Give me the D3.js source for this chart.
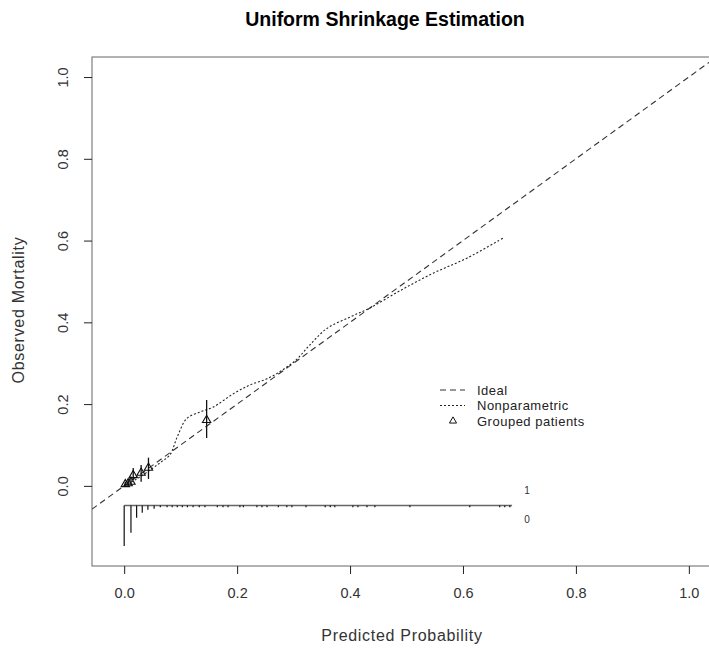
<!DOCTYPE html>
<html>
<head>
<meta charset="utf-8">
<script src="https://cdn.jsdelivr.net/npm/d3@7"></script>
<style>
  body { margin: 0; background: #fff; }
  svg { display: block; font-family: "Liberation Sans", Arial, sans-serif; }
</style>
</head>
<body>
<svg id="chart" width="709" height="650"></svg>
<script>
// ---- data ----
const xTicks = [0, 0.2, 0.4, 0.6, 0.8, 1.0];
const yTicks = [0, 0.2, 0.4, 0.6, 0.8, 1.0];
const idealX = [-0.1, 1.1];
const npX = [0.0, 0.02, 0.046, 0.065, 0.081, 0.094, 0.111, 0.135, 0.158, 0.193, 0.223, 0.253, 0.281, 0.306, 0.329, 0.359, 0.40, 0.435, 0.488, 0.547, 0.607, 0.671];
const npY = [0.0, 0.015, 0.039, 0.058, 0.076, 0.12, 0.165, 0.181, 0.193, 0.225, 0.247, 0.262, 0.284, 0.31, 0.345, 0.385, 0.413, 0.435, 0.477, 0.52, 0.557, 0.606];
const grpX  = [0.002, 0.007, 0.012, 0.016, 0.030, 0.043, 0.146];
const grpY  = [0.004, 0.006, 0.010, 0.026, 0.032, 0.044, 0.161];
const grpLo = [0.000, 0.001, 0.003, 0.015, 0.010, 0.017, 0.117];
const grpHi = [0.010, 0.013, 0.020, 0.044, 0.051, 0.069, 0.210];
const rugX0 = [0.0, 0.012, 0.022, 0.032, 0.042, 0.053,
  0.064, 0.076, 0.085, 0.094, 0.103, 0.112, 0.122, 0.133, 0.143, 0.165, 0.175, 0.184, 0.205, 0.211,
  0.235, 0.244, 0.253, 0.273, 0.288, 0.297, 0.322, 0.356, 0.365, 0.373, 0.405, 0.414, 0.430, 0.444,
  0.506, 0.612, 0.665, 0.674, 0.683];
const rugN0 = [407, 273, 123, 73, 43, 33,
  18, 18, 18, 18, 18, 18, 18, 18, 18, 18, 18, 18, 18, 18,
  18, 18, 18, 18, 18, 18, 18, 18, 18, 18, 18, 18, 18, 18,
  18, 18, 18, 18, 18];
const rugLine = [0.0, 0.687];
const legendItems = ["Ideal", "Nonparametric", "Grouped patients"];

// ---- scales ----
const svg = d3.select("#chart");
const x = d3.scaleLinear().domain([-0.057, 1.041]).range([92, 712]);
const y = d3.scaleLinear().domain([-0.196, 1.049]).range([566, 57]);
const rugH = d3.scaleLinear().domain([0, 410]).range([0, 0.1]);
const rugBase = -0.048;

svg.append("defs").append("clipPath").attr("id", "clip")
  .append("rect").attr("x", 92).attr("y", 57).attr("width", 620).attr("height", 509);

// title
svg.append("text").attr("x", 385).attr("y", 26).attr("text-anchor", "middle")
  .attr("font-weight", "bold").attr("font-size", 19.5).attr("fill", "#000")
  .text("Uniform Shrinkage Estimation");

// box
svg.append("rect").attr("x", 92).attr("y", 57).attr("width", 620).attr("height", 509)
  .attr("fill", "none").attr("stroke", "#666").attr("stroke-width", 1);

// axes
const fmt = d3.format(".1f");
const xa = svg.append("g").attr("transform", "translate(0,566)")
  .call(d3.axisBottom(x).tickValues(xTicks).tickFormat(fmt).tickSize(8).tickPadding(14));
xa.select(".domain").remove();
xa.selectAll("line").attr("stroke", "#222");
xa.selectAll("text").attr("font-size", 14.5).attr("fill", "#333").attr("font-family", "Liberation Sans, Arial, sans-serif");

const ya = svg.append("g").attr("transform", "translate(92,0)")
  .call(d3.axisLeft(y).tickValues(yTicks).tickFormat(fmt).tickSize(8));
ya.select(".domain").remove();
ya.selectAll("line").attr("stroke", "#222");
ya.selectAll("text")
  .attr("font-size", 14.5).attr("fill", "#333").attr("font-family", "Liberation Sans, Arial, sans-serif")
  .attr("x", null).attr("dy", null)
  .attr("text-anchor", "middle")
  .attr("transform", "translate(-29,0) rotate(-90)")
  .attr("dy", "0.35em");

// axis titles
svg.append("text").attr("x", 402).attr("y", 641).attr("text-anchor", "middle")
  .attr("font-size", 16).attr("letter-spacing", 0.7).attr("fill", "#333")
  .text("Predicted Probability");
svg.append("text").attr("transform", "translate(24,310) rotate(-90)").attr("text-anchor", "middle")
  .attr("font-size", 16).attr("letter-spacing", 0.7).attr("fill", "#333")
  .text("Observed Mortality");

const plot = svg.append("g").attr("clip-path", "url(#clip)");

// ideal line
plot.append("path").datum(idealX)
  .attr("d", d3.line().x(d => x(d)).y(d => y(d)))
  .attr("fill", "none").attr("stroke", "#333").attr("stroke-width", 1.1)
  .attr("stroke-dasharray", "6,4");

// nonparametric
plot.append("path").datum(npX.map((v, i) => [v, npY[i]]))
  .attr("d", d3.line().x(d => x(d[0])).y(d => y(d[1])).curve(d3.curveCatmullRom))
  .attr("fill", "none").attr("stroke", "#222").attr("stroke-width", 1.1)
  .attr("stroke-dasharray", "2,2");

// grouped patients error bars
plot.selectAll(".eb").data(grpX).enter().append("line")
  .attr("x1", d => x(d)).attr("x2", d => x(d))
  .attr("y1", (d, i) => y(grpLo[i])).attr("y2", (d, i) => y(grpHi[i]))
  .attr("stroke", "#111").attr("stroke-width", 1.3);
plot.selectAll(".tri").data(grpX).enter().append("path")
  .attr("d", d3.symbol().type(d3.symbolTriangle).size(30))
  .attr("transform", (d, i) => `translate(${x(d)},${y(grpY[i])})`)
  .attr("fill", "none").attr("stroke", "#111").attr("stroke-width", 1.1);

// rug
plot.append("line").attr("x1", x(rugLine[0])).attr("x2", x(rugLine[1]))
  .attr("y1", y(rugBase)).attr("y2", y(rugBase))
  .attr("stroke", "#666").attr("stroke-width", 1.6);
plot.selectAll(".rug0").data(rugX0).enter().append("line")
  .attr("x1", d => x(d)).attr("x2", d => x(d))
  .attr("y1", y(rugBase)).attr("y2", (d, i) => y(rugBase - rugH(rugN0[i])))
  .attr("stroke", "#111").attr("stroke-width", 1.2);
svg.append("text").attr("x", 527).attr("y", 494).attr("text-anchor", "middle")
  .attr("font-size", 10).attr("fill", "#333").text("1");
svg.append("text").attr("x", 527).attr("y", 523).attr("text-anchor", "middle")
  .attr("font-size", 10).attr("fill", "#333").text("0");

// legend
const lg = svg.append("g").attr("transform", "translate(440,390)");
const rowH = 15.5;
lg.append("line").attr("x1", 0).attr("x2", 25).attr("y1", 0).attr("y2", 0)
  .attr("stroke", "#333").attr("stroke-width", 1.1).attr("stroke-dasharray", "6,4");
lg.append("line").attr("x1", 0).attr("x2", 25).attr("y1", rowH).attr("y2", rowH)
  .attr("stroke", "#222").attr("stroke-width", 1.1).attr("stroke-dasharray", "2,2");
lg.append("path").attr("d", d3.symbol().type(d3.symbolTriangle).size(22))
  .attr("transform", `translate(13,${2 * rowH})`)
  .attr("fill", "none").attr("stroke", "#111").attr("stroke-width", 1);
lg.selectAll(".lt").data(legendItems).enter().append("text")
  .attr("x", 37).attr("y", (d, i) => i * rowH).attr("dy", "0.35em")
  .attr("font-size", 13).attr("letter-spacing", 0.5).attr("fill", "#222")
  .text(d => d);
</script>
</body>
</html>
